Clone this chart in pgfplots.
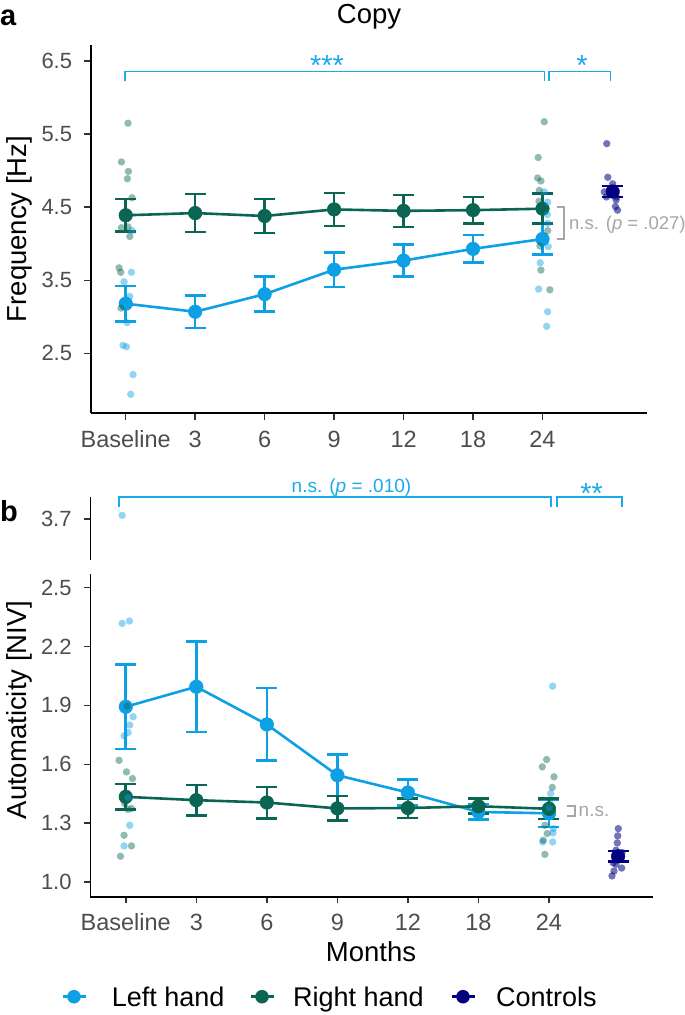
\documentclass[border=0pt]{standalone}
\usepackage{pgfplots}
\pgfplotsset{compat=1.18}
\usepackage{fontspec}
\setmainfont{Liberation Sans}
\definecolor{lh}{RGB}{14,160,228}
\definecolor{rh}{RGB}{10,101,82}
\definecolor{ct}{RGB}{0,0,128}
\definecolor{sig}{RGB}{25,170,235}
\definecolor{nsg}{RGB}{166,166,166}
\definecolor{tl}{RGB}{77,77,77}
\newcommand{\fs}[1]{\fontsize{#1}{#1}\selectfont}
\pgfplotsset{
  gg/.style={scale only axis, clip=false, axis lines*=left,
    axis line style={line width=1.8pt, black},
    tick align=outside, major tick length=6.7pt,
    major tick style={line width=1.5pt, black!80},
    xticklabel style={font=\fs{23.5}, text=tl, inner sep=0pt, anchor=base, yshift=-27pt},
    yticklabel style={font=\fs{22}, text=tl, inner sep=0pt, anchor=east, xshift=-12pt,
      /pgf/number format/fixed, /pgf/number format/fixed zerofill, /pgf/number format/precision=1},
    /pgf/number format/assume math mode=true,
  },
  meanS/.style={color=#1, line width=2.6pt, mark=*, mark size=6.8pt,
    mark options={solid, fill=#1, draw=#1, line width=0.5pt},
    error bars/.cd, y dir=both, y explicit,
    error bar style={line width=2.6pt, color=#1, solid},
    error mark options={rotate=90, color=#1, draw=#1, mark size=10.5pt, line width=2.6pt, solid},
    /pgfplots/.cd},
  ptS/.style 2 args={only marks, mark=*, mark size=3.7pt, color=#1,
    mark options={fill=#1, draw=#1, fill opacity=#2, draw opacity=0}},
}
\begin{document}
\begin{tikzpicture}
\useasboundingbox (0pt,0pt) rectangle (685pt,-1015pt);
% ---------------- panel a ----------------
\begin{axis}[gg, at={(91pt,-413.3pt)}, anchor=south west,
  width=555.7pt, height=368.3pt,
  xmin=-0.5, xmax=7.5, ymin=1.68, ymax=6.72,
  xtick={0,1,2,3,4,5,6}, xticklabels={Baseline,3,6,9,12,18,24},
  ytick={2.5,3.5,4.5,5.5,6.5}]
\addplot[meanS=lh] table[x=x,y=y,y error=e]{
x y e
0 3.18 0.24
1 3.07 0.22
2 3.31 0.24
3 3.645 0.235
4 3.77 0.22
5 3.93 0.19
6 4.065 0.215
};
\addplot[meanS=rh] table[x=x,y=y,y error=e]{
x y e
0 4.39 0.22
1 4.42 0.26
2 4.38 0.235
3 4.47 0.225
4 4.45 0.22
5 4.46 0.18
6 4.48 0.205
};
\addplot[only marks, meanS=ct] table[x=x,y=y,y error=e]{
x y e
7.01 4.715 0.075
};
\addplot[ptS={lh}{0.45}] table{
0.091 4.18
0.082 3.61
-0.024 3.48
0.058 3.28
0.019 2.92
-0.039 2.61
0.010 2.59
0.105 2.21
0.072 1.94
6.025 4.71
6.074 4.57
6.070 4.40
6.075 4.28
6.083 3.96
5.967 3.74
5.944 3.38
6.074 3.07
6.060 2.87
};
\addplot[ptS={rh}{0.45}] table{
0.033 5.65
-0.062 5.12
0.039 4.99
0.024 4.89
0.091 4.63
-0.062 4.22
0.033 4.23
0.058 4.10
-0.096 3.67
-0.072 3.61
-0.068 3.12
6.025 5.67
5.938 5.18
5.930 4.90
5.977 4.86
5.953 4.73
5.950 4.58
6.075 4.18
5.963 3.97
5.977 3.64
6.106 3.37
};
\addplot[ptS={ct}{0.55}] table{
6.925 5.37
6.940 4.91
7.010 4.82
6.890 4.71
6.920 4.64
7.060 4.60
7.050 4.51
7.080 4.46
7.065 4.64
6.980 4.73
7.020 4.68
};
\end{axis}
% ---------------- panel b upper ----------------
\begin{axis}[gg, axis x line=none, axis y line*=left,
  at={(90.5pt,-560pt)}, anchor=south west,
  width=562.5pt, height=63.3pt,
  xmin=-0.5, xmax=7.475, ymin=3.492, ymax=3.815,
  xtick=\empty, ytick={3.7}]
\addplot[ptS={lh}{0.45}] table{
-0.052 3.72
};
\end{axis}
% ---------------- panel b lower ----------------
\begin{axis}[gg, at={(90.5pt,-896.7pt)}, anchor=south west,
  width=562.5pt, height=322.4pt,
  xmin=-0.5, xmax=7.475, ymin=0.925, ymax=2.568,
  xtick={0,1,2,3,4,5,6}, xticklabels={Baseline,3,6,9,12,18,24},
  ytick={1.0,1.3,1.6,1.9,2.2,2.5}]
\addplot[meanS=lh] table[x=x,y=y,y error=e]{
x y e
0 1.893 0.215
1 1.995 0.23
2 1.803 0.185
3 1.544 0.105
4 1.456 0.067
5 1.357 0.04
6 1.35 0.07
};
\addplot[meanS=rh] table[x=x,y=y,y error=e]{
x y e
0 1.434 0.066
1 1.417 0.078
2 1.405 0.08
3 1.375 0.063
4 1.377 0.05
5 1.386 0.038
6 1.373 0.052
};
\addplot[only marks, meanS=ct] table[x=x,y=y,y error=e]{
x y e
6.98 1.131 0.027
};
\addplot[ptS={lh}{0.45}] table{
-0.052 2.318
0.052 2.330
0.104 1.842
0.057 1.800
0.033 1.762
-0.024 1.745
0.033 1.430
0.057 1.289
-0.024 1.184
6.052 1.998
6.024 1.451
6.061 1.272
6.052 1.204
5.911 1.204
6.057 1.250
6.000 1.380
};
\addplot[ptS={rh}{0.45}] table{
0.018 1.896
-0.095 1.620
0.010 1.561
0.095 1.527
-0.014 1.400
0.081 1.375
0.030 1.370
-0.024 1.238
0.081 1.184
-0.075 1.131
5.967 1.624
5.905 1.587
6.071 1.536
6.047 1.482
6.014 1.400
5.943 1.289
5.976 1.247
5.919 1.213
5.943 1.141
};
\addplot[ptS={ct}{0.55}] table{
6.983 1.272
6.975 1.235
6.969 1.199
6.950 1.162
7.007 1.120
6.950 1.090
6.912 1.097
7.031 1.071
6.922 1.056
6.894 1.031
7.035 1.150
};
\end{axis}
% ---------------- annotations ----------------
\draw[sig, line width=1.7pt] (125.3pt,-80.5pt) -- (125.3pt,-71.5pt) -- (544.5pt,-71.5pt) -- (544.5pt,-80.5pt);
\draw[sig, line width=1.7pt] (549pt,-80.5pt) -- (549pt,-71.5pt) -- (610.5pt,-71.5pt) -- (610.5pt,-80.5pt);
\node[anchor=base, inner sep=0, text=sig, font=\fs{29}] at (327pt,-75pt) {***};
\node[anchor=base, inner sep=0, text=sig, font=\fs{29}] at (582pt,-75pt) {*};
\draw[nsg, line width=2.2pt] (557pt,-207.3pt) -- (564.3pt,-207.3pt) -- (564.3pt,-239pt) -- (557pt,-239pt);
\node[anchor=base west, inner sep=0, text=nsg, font=\fs{18.5}] at (569pt,-229.3pt) {n.s. (\textit{p} = .027)};
\draw[sig, line width=1.7pt] (119pt,-506.7pt) -- (119pt,-497.3pt) -- (551pt,-497.3pt) -- (551pt,-506.7pt);
\draw[sig, line width=1.7pt] (557.3pt,-506.7pt) -- (557.3pt,-497.3pt) -- (621.7pt,-497.3pt) -- (621.7pt,-506.7pt);
\node[anchor=base, inner sep=0, text=sig, font=\fs{19}] at (351.5pt,-492.7pt) {n.s. (\textit{p} = .010)};
\node[anchor=base, inner sep=0, text=sig, font=\fs{29}] at (591.7pt,-503pt) {**};
\draw[nsg, line width=2.2pt] (566.7pt,-806pt) -- (575pt,-806pt) -- (575pt,-816pt) -- (566.7pt,-816pt);
\node[anchor=base west, inner sep=0, text=nsg, font=\fs{19}] at (578.5pt,-816.7pt) {n.s.};
% labels
\node[anchor=base west, inner sep=0, font=\bfseries\fs{29}] at (0pt,-25pt) {a};
\node[anchor=base west, inner sep=0, font=\bfseries\fs{29}] at (0pt,-521.7pt) {b};
\node[anchor=base, inner sep=0, font=\fs{27.5}] at (369pt,-23.3pt) {Copy};
\node[anchor=base, inner sep=0, font=\fs{27.5}, rotate=90] at (26.5pt,-229pt) {Frequency [Hz]};
\node[anchor=base, inner sep=0, font=\fs{27.5}, rotate=90] at (26.5pt,-710pt) {Automaticity [NIV]};
\node[anchor=base, inner sep=0, font=\fs{27.5}] at (371pt,-961.7pt) {Months};
% legend
\draw[lh, line width=2.6pt] (62.5pt,-996.7pt) -- (85.5pt,-996.7pt);
\fill[lh] (74pt,-996.7pt) circle (6.8pt);
\node[anchor=base west, inner sep=0, font=\fs{27}] at (111.7pt,-1006pt) {Left hand};
\draw[rh, line width=2.6pt] (250.5pt,-996.7pt) -- (273.5pt,-996.7pt);
\fill[rh] (262pt,-996.7pt) circle (6.8pt);
\node[anchor=base west, inner sep=0, font=\fs{27}] at (293pt,-1006pt) {Right hand};
\draw[ct, line width=2.6pt] (451.5pt,-996.7pt) -- (474.5pt,-996.7pt);
\fill[ct] (463pt,-996.7pt) circle (6.8pt);
\node[anchor=base west, inner sep=0, font=\fs{27}] at (496pt,-1006pt) {Controls};
\end{tikzpicture}
\end{document}
